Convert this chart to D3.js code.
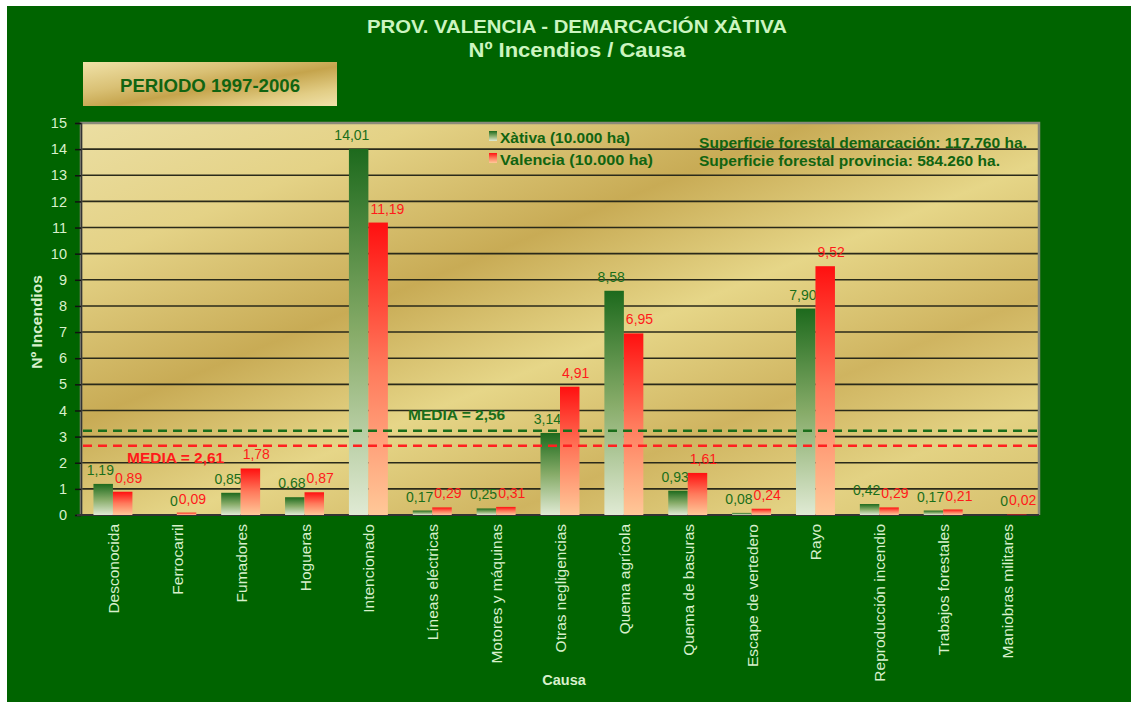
<!DOCTYPE html>
<html><head><meta charset="utf-8">
<script src="https://cdn.jsdelivr.net/npm/d3@7"></script>
<style>body{margin:0;background:#fff;}svg{display:block;font-family:Arial,"Liberation Sans",sans-serif;}</style>
</head><body>
<svg id="c" width="1131" height="702"></svg>
<script>
const categories = ["Desconocida","Ferrocarril","Fumadores","Hogueras","Intencionado","Líneas  eléctricas","Motores y máquinas","Otras negligencias","Quema agrícola","Quema de basuras","Escape de vertedero","Rayo","Reproducción incendio","Trabajos forestales","Maniobras militares"];
const xativa = [1.19,0,0.85,0.68,14.01,0.17,0.25,3.14,8.58,0.93,0.08,7.90,0.42,0.17,0];
const valencia = [0.89,0.09,1.78,0.87,11.19,0.29,0.31,4.91,6.95,1.61,0.24,9.52,0.29,0.21,0.02];
const seriesNames = ["Xàtiva (10.000  ha)","Valencia (10.000  ha)"];
const yTicks = d3.range(0,16);
const mediaLines = [3.22, 2.65];           // drawn line levels (as in picture)
const mediaLabels = ["MEDIA = 2,56","MEDIA = 2,61"];
const titleLines = ["PROV. VALENCIA  - DEMARCACIÓN  XÀTIVA","Nº Incendios / Causa"];
const periodo = "PERIODO 1997-2006";
const infoLines = ["Superficie forestal  demarcación:  117.760  ha.","Superficie forestal  provincia: 584.260  ha."];

const fmt = v => v===0 ? "0" : d3.format(".2f")(v).replace(".",",");
const svg = d3.select("#c");
const defs = svg.append("defs");

// gradients
const gold = defs.append("linearGradient").attr("id","gold").attr("x1","0").attr("y1","0").attr("x2","1").attr("y2","1");
[[0,"#ebdea2"],[0.18,"#e4d286"],[0.38,"#c8ab55"],[0.55,"#e6d688"],[0.72,"#cfb460"],[0.86,"#e3d283"],[1,"#d6bf6c"]].forEach(s=>gold.append("stop").attr("offset",s[0]).attr("stop-color",s[1]));
const gold2 = defs.append("linearGradient").attr("id","gold2").attr("x1","0").attr("y1","0").attr("x2","1").attr("y2","1");
[[0,"#f0e2a8"],[0.35,"#d9c074"],[0.55,"#c5a44c"],[0.8,"#e2cd85"],[1,"#f0e2aa"]].forEach(s=>gold2.append("stop").attr("offset",s[0]).attr("stop-color",s[1]));
const gG = defs.append("linearGradient").attr("id","gG").attr("x1","0").attr("y1","0").attr("x2","0").attr("y2","1");
[[0,"#1d6a1d"],[0.5,"#86ab68"],[1,"#e0ead4"]].forEach(s=>gG.append("stop").attr("offset",s[0]).attr("stop-color",s[1]));
const gR = defs.append("linearGradient").attr("id","gR").attr("x1","0").attr("y1","0").attr("x2","0").attr("y2","1");
[[0,"#ff1010"],[0.5,"#ff7a5c"],[1,"#ffc898"]].forEach(s=>gR.append("stop").attr("offset",s[0]).attr("stop-color",s[1]));

// background
svg.append("rect").attr("x",7).attr("y",6).attr("width",1124).attr("height",696).attr("fill","#006400");

const m = {l:81, r:1039, t:123, b:515};
const x = d3.scaleBand().domain(categories).range([m.l,m.r]).paddingInner(0.39).paddingOuter(0.195);
const xs = d3.scaleBand().domain([0,1]).range([0,x.bandwidth()]);
const y = d3.scaleLinear().domain([0,15]).range([m.b,m.t]);

svg.append("rect").attr("x",m.l).attr("y",m.t).attr("width",m.r-m.l).attr("height",m.b-m.t).attr("fill","url(#gold)");

// grid
svg.append("g").selectAll("line").data(yTicks.filter(d=>d>0&&d<15)).join("line")
  .attr("x1",m.l).attr("x2",m.r).attr("y1",d=>y(d)).attr("y2",d=>y(d))
  .attr("stroke","#2a2a1a").attr("stroke-width",1.6);

// border
svg.append("path").attr("d",`M${m.l},${m.b}V${m.t}H${m.r}V${m.b}`).attr("fill","none").attr("stroke","#8a8a7a").attr("stroke-width",2.5);

// y axis
const ya = svg.append("g").attr("transform",`translate(${m.l},0)`).call(d3.axisLeft(y).tickValues(yTicks).tickSize(6).tickPadding(8));
ya.select(".domain").attr("stroke","#333").attr("stroke-width",1.5);
ya.selectAll(".tick line").attr("stroke","#111").attr("stroke-width",1.5);
ya.selectAll("text").attr("fill","#d8f0cc").attr("font-size",14.5).attr("font-family","Arial, Liberation Sans, sans-serif");

// x axis baseline
svg.append("line").attr("x1",m.l-4).attr("x2",m.r).attr("y1",m.b).attr("y2",m.b).attr("stroke","#333").attr("stroke-width",2);

// bars
const series = [xativa, valencia];
const fills = ["url(#gG)","url(#gR)"];
const labCol = ["#1a6e1a","#ff1a1a"];
series.forEach((s,si)=>{
  const g = svg.append("g");
  g.selectAll("rect").data(s).join("rect")
    .attr("x",(d,i)=>x(categories[i])+xs(si)).attr("width",xs.bandwidth())
    .attr("y",d=>y(d)).attr("height",d=>Math.max(0,m.b-y(d)))
    .attr("fill",fills[si]);
  g.selectAll("text").data(s).join("text")
    .attr("x",(d,i)=> si===0 ? x(categories[i])+xs.bandwidth()+1 : x(categories[i])+xs(1)+2)
    .attr("y",d=>y(d)-9)
    .attr("text-anchor", si===0 ? "end" : "start").attr("font-size",14).attr("fill",labCol[si])
    .text(d=>fmt(d));
});

// media lines
const mCol = ["#1a6e1a","#ff2020"];
mediaLines.forEach((v,i)=>{
  svg.append("line").attr("x1",m.l+2).attr("x2",m.r).attr("y1",y(v)).attr("y2",y(v))
    .attr("stroke",mCol[i]).attr("stroke-width",2.5).attr("stroke-dasharray","9,6");
});
svg.append("text").attr("x",408).attr("y",y(mediaLines[0])-11).attr("font-size",15.5).attr("font-weight","bold").attr("fill","#1a6e1a").text(mediaLabels[0]);
svg.append("text").attr("x",127).attr("y",y(mediaLines[1])+17).attr("font-size",15.5).attr("font-weight","bold").attr("fill","#ff1a1a").text(mediaLabels[1]);

// x labels
svg.append("g").selectAll("text").data(categories).join("text")
  .attr("transform",d=>`translate(${x(d)+x.bandwidth()/2+6},${m.b+9}) rotate(-90)`)
  .attr("text-anchor","end").attr("font-size",15.5).attr("fill","#d8f0cc").text(d=>d);

// axis titles
svg.append("text").attr("transform",`translate(42,${(m.t+m.b)/2+3}) rotate(-90)`).attr("text-anchor","middle")
  .attr("font-size",15.5).attr("font-weight","bold").attr("fill","#d8f0cc").text("Nº Incendios");
svg.append("text").attr("x",564).attr("y",685).attr("text-anchor","middle").attr("font-size",14.5).attr("font-weight","bold").attr("fill","#d8f0cc").text("Causa");

// title
svg.append("text").attr("x",577).attr("y",33).attr("text-anchor","middle").attr("font-size",19).attr("font-weight","bold").attr("fill","#ccf5c0").attr("textLength",420).attr("lengthAdjust","spacingAndGlyphs").text(titleLines[0]);
svg.append("text").attr("x",577).attr("y",57).attr("text-anchor","middle").attr("font-size",21).attr("font-weight","bold").attr("fill","#ccf5c0").attr("textLength",217).attr("lengthAdjust","spacingAndGlyphs").text(titleLines[1]);

// periodo box
svg.append("rect").attr("x",83).attr("y",62).attr("width",254).attr("height",44).attr("fill","url(#gold2)");
svg.append("text").attr("x",210).attr("y",92).attr("text-anchor","middle").attr("font-size",19).attr("font-weight","bold").attr("fill","#116411").attr("textLength",180).attr("lengthAdjust","spacingAndGlyphs").text(periodo);

// legend
const lg = svg.append("g");
const legLen = [130,153];
seriesNames.forEach((n,i)=>{
  lg.append("rect").attr("x",489).attr("y",131+i*22).attr("width",8).attr("height",10).attr("fill",fills[i]);
  lg.append("text").attr("x",500).attr("y",143+i*22).attr("font-size",15.5).attr("font-weight","bold").attr("fill","#116411").attr("textLength",legLen[i]).attr("lengthAdjust","spacingAndGlyphs").text(n);
});
const infoLen = [328,301];
infoLines.forEach((t,i)=>{
  svg.append("text").attr("x",699).attr("y",148+i*18).attr("font-size",15).attr("font-weight","bold").attr("fill","#116411").attr("textLength",infoLen[i]).attr("lengthAdjust","spacingAndGlyphs").text(t);
});
</script>
</body></html>
